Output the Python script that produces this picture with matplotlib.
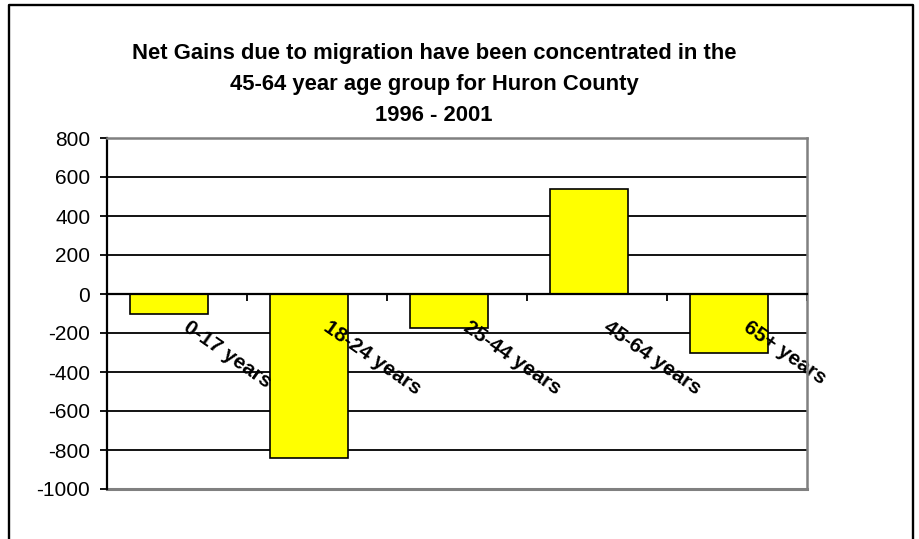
# %% Libs:
import numpy as np
import matplotlib
matplotlib.use('Agg')
import matplotlib.pyplot as plt
from matplotlib.lines import Line2D
from matplotlib.ticker import MultipleLocator

# %% Data:
age_groups = ['0-17 years', '18-24 years', '25-44 years', '45-64 years', '65+ years']
net_gain = [-100, -840, -175, 540, -300]
title_str = ('Net Gains due to migration have been concentrated in the\n'
             '45-64 year age group for Huron County\n'
             '1996 - 2001')
y_min, y_max, y_step = -1000, 800, 200

# %% Plot:
plt.rcParams['font.family'] = ['Liberation Sans', 'DejaVu Sans']
plt.rcParams['axes.unicode_minus'] = False

W, H = 919, 539
fig = plt.figure(figsize=(W/100, H/100), dpi=100)
ax = fig.add_axes([107/W, 1-489/H, 700/W, 351/H])

x = np.arange(len(age_groups))
# bars below the axis artists so the category labels sit on top of them
ax.bar(x - 0.057, net_gain, width=0.557, color='#FFFF00', edgecolor='black',
       linewidth=1.2, zorder=1.5)
ax.set_xlim(-0.5, len(age_groups)-0.5)
ax.set_ylim(y_min, y_max)
ax.yaxis.set_major_locator(MultipleLocator(y_step))

# gridlines behind the bars (black, excel style)
for v in ax.get_yticks():
    if y_min < v < y_max:
        ax.axhline(v, color='black', linewidth=1.3, zorder=0.5)

# spines
ax.spines['bottom'].set_position(('data', 0))
ax.spines['bottom'].set_color('black')
ax.spines['bottom'].set_linewidth(1.6)
ax.spines['left'].set_color('black')
ax.spines['left'].set_linewidth(1.6)
for s in ['top', 'right']:
    ax.spines[s].set_color('#808080')
    ax.spines[s].set_linewidth(1.8)
ax.axhline(y_min, color='#808080', linewidth=2.2, clip_on=False, zorder=2.5)

# x ticks: marks on category borders, labels rotated
ax.set_xticks(x + 0.097, age_groups, rotation=-35, ha='left', va='top',
              rotation_mode='anchor', fontweight='bold', fontsize=15)
ax.set_xticks(np.arange(len(age_groups)+1) - 0.5, minor=True)
ax.tick_params(axis='x', which='major', length=0, pad=17)
ax.tick_params(axis='x', which='minor', length=5, width=1.3, direction='out')

ax.tick_params(axis='y', which='major', length=5, width=1.3, labelsize=15, pad=7)

fig.text(434/W, 1-43/H, title_str, ha='center', va='top', fontsize=15.8,
         fontweight='bold', linespacing=1.62)

# outer frame (no bottom edge visible)
fig.add_artist(Line2D([8.5/W, 8.5/W, 912.5/W, 912.5/W], [0, 1-4.5/H, 1-4.5/H, 0],
                      color='black', linewidth=1.7, transform=fig.transFigure))

fig.savefig('out.png', dpi=100)
